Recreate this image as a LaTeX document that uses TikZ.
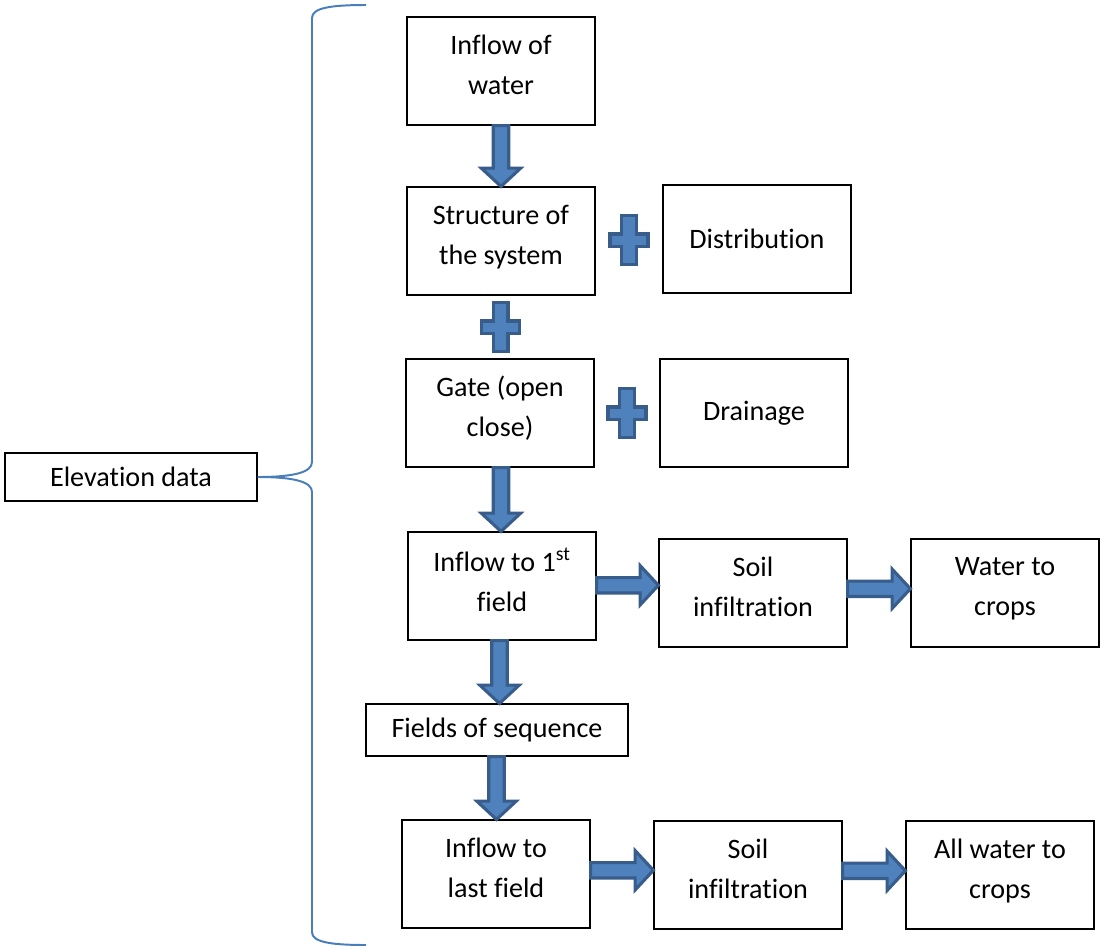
\documentclass[tikz,border=0pt]{standalone}
\usepackage{fontspec}
\setmainfont{Carlito}[Ligatures={NoCommon,NoRare},Contextuals=NoAlternate]
\usetikzlibrary{calc}

\definecolor{arrfill}{HTML}{4F81BD}
\definecolor{arredge}{HTML}{385D8A}
\definecolor{bracecol}{HTML}{4A7EBB}

\tikzset{
  box/.style={draw=black,line width=0.8pt,minimum width=4.7cm,minimum height=2.7cm,
    align=center,inner sep=2pt,font=\fontsize{20}{28.4}\selectfont},
  twobox/.style={box,execute at end node={\rule[-9pt]{0pt}{0pt}}},
  blk/.style={fill=arrfill,draw=arredge,line width=2.2pt,line join=miter},
  brace/.style={draw=bracecol,line width=1.4pt}
}

% block arrow pointing down, from #1 to #2
\newcommand{\downblk}[2]{%
  \path[blk] let \p1=(#1.south), \p2=(#2.north), \n1={(\x1+\x2)/2} in
    ({\n1-5.5pt},\y1) -- ({\n1+5.5pt},\y1) -- ({\n1+5.5pt},{\y2+13pt})
    -- ({\n1+14pt},{\y2+13pt}) -- (\n1,\y2) -- ({\n1-14pt},{\y2+13pt})
    -- ({\n1-5.5pt},{\y2+13pt}) -- cycle;}

% block arrow pointing right, from #1 to #2
\newcommand{\rightblk}[2]{%
  \path[blk] let \p1=(#1.east), \p2=(#2.west), \n1={(\y1+\y2)/2+3pt} in
    (\x1,{\n1+5.5pt}) -- ({\x2-13pt},{\n1+5.5pt}) -- ({\x2-13pt},{\n1+14pt})
    -- (\x2,\n1) -- ({\x2-13pt},{\n1-14pt}) -- ({\x2-13pt},{\n1-5.5pt})
    -- (\x1,{\n1-5.5pt}) -- cycle;}

% plus sign centred at #1
\newcommand{\plusat}[1]{%
  \path[blk,shift={(#1)}] (-5.3pt,17.7pt) -- (5.3pt,17.7pt) -- (5.3pt,4.3pt)
    -- (13.5pt,4.3pt) -- (13.5pt,-4.3pt) -- (5.3pt,-4.3pt) -- (5.3pt,-17.7pt)
    -- (-5.3pt,-17.7pt) -- (-5.3pt,-4.3pt) -- (-13.5pt,-4.3pt) -- (-13.5pt,4.3pt)
    -- (-5.3pt,4.3pt) -- cycle;}

\begin{document}
\begin{tikzpicture}[x=0.025cm,y=-0.025cm]

\useasboundingbox (0,0) rectangle (1101,949);

% Main column
\node[twobox] (inflow) at (501,71) {Inflow of\\water};
\node[twobox] (struct) at (501,241) {Structure of\\the system};
\node[twobox] (gate) at (500,413) {Gate (open\\close)};
\node[twobox] (first) at (502,586) {Inflow to 1\textsuperscript{st}\\field};
\node[box,minimum width=6.55cm,minimum height=1.3cm] (seq) at (497,730) {Fields of sequence};
\node[twobox] (last) at (496,874) {Inflow to\\last field};

% Side boxes
\node[box] (distr) at (757,239) {Distribution};
\node[box] (drain) at (754,413) {Drainage};
\node[twobox] (soilA) at (753,593) {Soil\\infiltration};
\node[twobox] (cropsA) at (1005,593) {Water to\\crops};
\node[twobox] (soilB) at (748,875) {Soil\\infiltration};
\node[twobox] (cropsB) at (1000,875) {All water to\\crops};

% Elevation data and its brace
\node[box,minimum width=6.3cm,minimum height=1.2cm] (elev) at (131,477) {Elevation data};

\coordinate (braceTop) at (366,5);
\coordinate (braceBot) at (366,945);
\draw[brace] (braceTop) .. controls (330,5) and (312,8) .. (312,18) -- (312,462)
  .. controls (312,472) and (295,477) .. (elev.east)
  .. controls (295,477) and (312,482) .. (312,492) -- (312,932)
  .. controls (312,942) and (330,945) .. (braceBot);

% Plus signs
\coordinate (plusA) at ($(struct.east)!0.5!(distr.west)$);
\coordinate (plusB) at ($(struct.south)!0.5!(gate.north)$);
\coordinate (plusC) at ($(gate.east)!0.5!(drain.west)$);
\plusat{plusA}
\plusat{plusB}
\plusat{plusC}

% Block arrows
\downblk{inflow}{struct}
\downblk{gate}{first}
\downblk{first}{seq}
\downblk{seq}{last}
\rightblk{first}{soilA}
\rightblk{soilA}{cropsA}
\rightblk{last}{soilB}
\rightblk{soilB}{cropsB}

\end{tikzpicture}
\end{document}
